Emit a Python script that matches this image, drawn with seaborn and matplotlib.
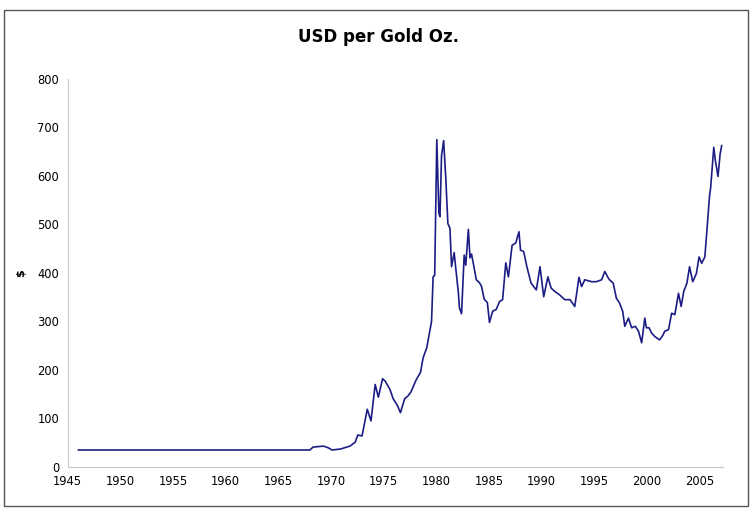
import numpy as np
import matplotlib
matplotlib.use('Agg')
import matplotlib.pyplot as plt
from matplotlib.patches import Rectangle
import seaborn as sns
import pandas as pd

# gold price (year, USD per oz)
years = [
    1946.0, 1968.0, 1968.3, 1969.3, 1969.8, 1970.1, 1970.9, 1971.8, 1972.3, 1972.55,
    1972.95, 1973.45, 1973.8, 1974.2, 1974.5, 1974.9, 1975.15, 1975.6, 1975.9, 1976.3,
    1976.6, 1977.0, 1977.3, 1977.6, 1978.1, 1978.5, 1978.75, 1979.1, 1979.55, 1979.7,
    1979.85, 1980.05, 1980.25, 1980.35, 1980.5, 1980.7, 1980.9, 1981.1, 1981.3, 1981.45,
    1981.7, 1981.85, 1982.1, 1982.2, 1982.4, 1982.65, 1982.8, 1983.05, 1983.2, 1983.35,
    1983.6, 1983.8, 1984.1, 1984.3, 1984.55, 1984.85, 1985.05, 1985.35, 1985.7, 1986.0,
    1986.3, 1986.6, 1986.85, 1987.2, 1987.55, 1987.85, 1988.0, 1988.3, 1988.6, 1989.0,
    1989.5, 1989.85, 1990.2, 1990.6, 1990.9, 1991.25, 1991.7, 1992.2, 1992.7, 1993.15,
    1993.55, 1993.8, 1994.1, 1994.75, 1995.2, 1995.7, 1996.0, 1996.4, 1996.8, 1997.1,
    1997.4, 1997.7, 1997.9, 1998.25, 1998.55, 1998.9, 1999.2, 1999.5, 1999.8, 1999.95,
    2000.2, 2000.45, 2000.75, 2001.2, 2001.5, 2001.7, 2002.05, 2002.35, 2002.65, 2003.0,
    2003.25, 2003.5, 2003.8, 2004.05, 2004.35, 2004.7, 2004.95, 2005.2, 2005.5, 2005.65,
    2005.95, 2006.05, 2006.35, 2006.5, 2006.75, 2006.95, 2007.1,
]
prices = [
    35, 35, 41, 43, 39, 35, 37, 43, 51, 66,
    64, 119, 95, 170, 144, 182, 177, 160, 141, 127,
    112, 141, 146, 155, 180, 195, 225, 246, 300, 392,
    395, 675, 523, 516, 642, 673, 597, 502, 492, 413,
    442, 410, 359, 328, 316, 437, 416, 490, 431, 439,
    410, 386, 380, 372, 346, 339, 298, 321, 325, 341,
    345, 421, 392, 457, 462, 485, 447, 444, 413, 379,
    365, 413, 351, 392, 369, 362, 355, 345, 345, 331,
    391, 372, 386, 382, 382, 386, 403, 387, 379, 348,
    338, 321, 290, 307, 287, 290, 280, 256, 307, 287,
    287, 276, 269, 262, 271, 280, 283, 317, 314, 358,
    331, 362, 379, 413, 382, 399, 433, 420, 433, 474,
    560, 575, 659, 632, 599, 645, 663,
]
x_ticks = [1945, 1950, 1955, 1960, 1965, 1970, 1975, 1980, 1985, 1990, 1995, 2000, 2005]
y_ticks = [0, 100, 200, 300, 400, 500, 600, 700, 800]

df = pd.DataFrame({'year': years, 'price': prices})

sns.set_theme(style='white')
plt.rcParams['font.family'] = ['DejaVu Sans']
plt.rcParams['text.color'] = 'black'

fig = plt.figure(figsize=(7.56, 5.16), dpi=100)
ax = fig.add_axes([0.0895, 0.095, 0.8665, 0.752])

sns.lineplot(data=df, x='year', y='price', color='#1c1c85', lw=1.2, ax=ax)

ax.set_xlim(1945, 2007.2)
ax.set_ylim(0, 800)
ax.set_xticks(x_ticks)
ax.set_yticks(y_ticks)
ax.tick_params(axis='both', labelsize=8.3, length=3, width=0.8,
               direction='out', pad=3, labelcolor='black', color='#c8c8c8')
ax.set_xlabel('')
ax.set_ylabel('$', fontsize=8, fontweight='bold', labelpad=8, color='black')
for s in ['top', 'right']:
    ax.spines[s].set_visible(False)
for s in ['left', 'bottom']:
    ax.spines[s].set_color('#c8c8c8')
    ax.spines[s].set_linewidth(0.8)
    ax.spines[s].set_linestyle((0, (2, 1)))

fig.text(0.5, 0.928, 'USD per Gold Oz.', ha='center', va='center',
         fontsize=12, fontweight='bold', color='black')

# chart frame
fig.patches.append(Rectangle((4 / 756, 1 - 506 / 516), 744 / 756, 496 / 516,
                             transform=fig.transFigure, fill=False,
                             edgecolor='#555555', lw=1.0))

fig.savefig('out.png', dpi=100)
